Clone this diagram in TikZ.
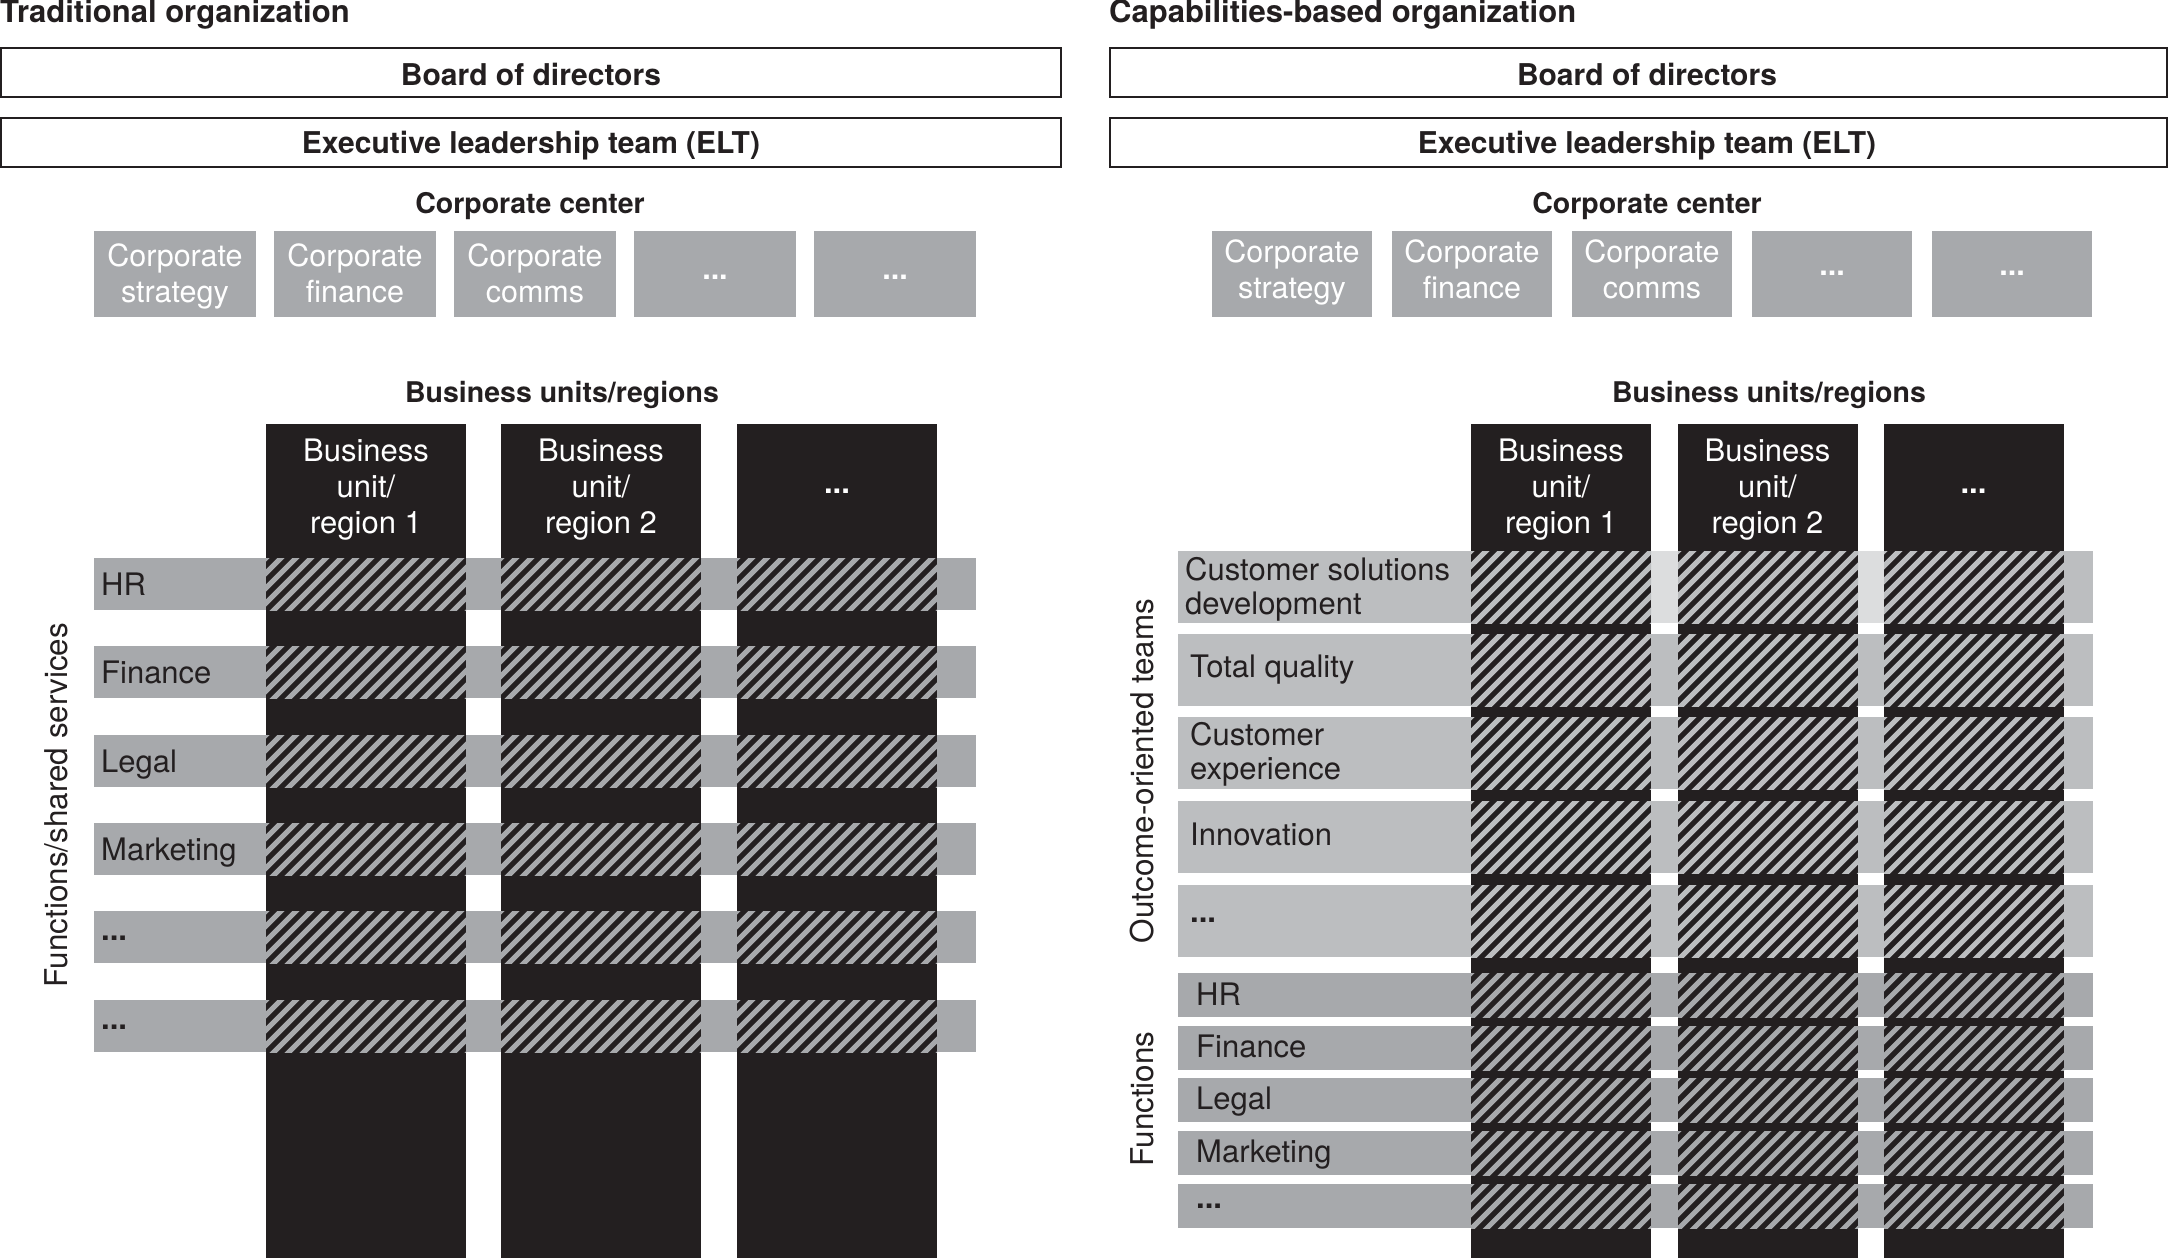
\documentclass[tikz,border=0pt]{standalone}
\usepackage{fontspec}
\setmainfont{TeX Gyre Heros}
\definecolor{ink}{HTML}{231F20}
\definecolor{midgray}{HTML}{A7A9AC}
\definecolor{ltgray}{HTML}{BCBEC0}
\definecolor{palegray}{HTML}{DCDDDE}
\newcommand\mystrut{\rule{0pt}{25pt}}
\newcommand\mydots{\textbf{...}}
% hatch cell: x1 y1 x2 y2 colour
\newcommand\hcell[5]{%
  \begin{scope}
    \clip (#1,#2) rectangle (#3,#4);
    \pgfmathsetmacro\hh{#4-#2}
    \foreach \k in {0,...,20} {%
      \draw[#5, line width=5pt] ({#1-\hh+\k*15-4},{#4+4}) -- ++({\hh+8},{-\hh-8});
    }
  \end{scope}}
\begin{document}
\begin{tikzpicture}[x=1pt,y=-1pt,
  title/.style={anchor=base west, inner sep=0pt, text=ink, font=\bfseries\fontsize{31}{36}\selectfont},
  board/.style={draw=ink, line width=2pt, minimum height=49pt, inner sep=0pt},
  boardtext/.style={anchor=base, inner sep=0pt, text=ink, font=\bfseries\fontsize{30}{34}\selectfont},
  sect/.style={anchor=base, inner sep=0pt, text=ink, font=\bfseries\fontsize{28.5}{34}\selectfont},
  ccbox/.style={fill=midgray, minimum height=86pt, inner sep=0pt},
  cctext/.style={anchor=north, inner sep=0pt, align=center, text=white, font=\fontsize{30.5}{36}\selectfont},
  ccdots/.style={anchor=base, inner sep=0pt, text=white, font=\fontsize{30.5}{36}\selectfont},
  colbar/.style={fill=ink, anchor=north west, inner sep=0pt, minimum height=834pt},
  coltext/.style={anchor=north, inner sep=0pt, align=center, text=white, font=\fontsize{31}{36}\selectfont},
  coldots/.style={anchor=base, inner sep=0pt, text=white, font=\fontsize{31}{36}\selectfont},
  rowband/.style={anchor=north west, inner sep=0pt},
  rowtext/.style={anchor=base west, inner sep=0pt, text=ink, font=\fontsize{31}{34}\selectfont},
  rowtextml/.style={anchor=north west, inner sep=0pt, align=left, text=ink, font=\fontsize{31}{34}\selectfont},
  sidelabel/.style={rotate=90, inner sep=0pt, text=ink, font=\fontsize{31.4}{36}\selectfont}
]
\useasboundingbox[fill=white] (0,0) rectangle (2170,1260);

% ================= LEFT: Traditional organization =================
\node[title] (ltitle) at (0,23) {Traditional organization};
\node[board, minimum width=1060pt] (lboard) at (531,72.5) {};
\node[boardtext] (lboardt) at (531,86) {Board of directors};
\node[board, minimum width=1060pt] (lelt) at (531,142.5) {};
\node[boardtext] (leltt) at (531,154) {Executive leadership team (ELT)};
\node[sect] (lcc) at (530,213.5) {Corporate center};

\node[ccbox, minimum width=162pt] (lc1) at (175,274) {};
\node[ccbox, minimum width=162pt] (lc2) at (355,274) {};
\node[ccbox, minimum width=162pt] (lc3) at (535,274) {};
\node[ccbox, minimum width=162pt] (lc4) at (715,274) {};
\node[ccbox, minimum width=162pt] (lc5) at (895,274) {};
\node[cctext] (lc1t) at (175,241) {\mystrut Corporate\\strategy};
\node[cctext] (lc2t) at (355,241) {\mystrut Corporate\\finance};
\node[cctext] (lc3t) at (535,241) {\mystrut Corporate\\comms};
\node[ccdots] (lc4t) at (715,279) {\mydots};
\node[ccdots] (lc5t) at (895,279) {\mydots};

\node[sect] (lbu) at (562,402.5) {Business units/regions};

% row bands
\foreach \ry/\nm in {558/1,646/2,735/3,823/4,911/5,1000/6}
  \node[rowband, fill=midgray, minimum width=882pt, minimum height=52pt] (lrow\nm) at (94,\ry) {};
% columns
\node[colbar, minimum width=200pt] (lcol1) at (266,424) {};
\node[colbar, minimum width=200pt] (lcol2) at (501,424) {};
\node[colbar, minimum width=200pt] (lcol3) at (737,424) {};
% hatching
\foreach \cx in {266,501,737}
  \foreach \ry in {558,646,735,823,911,1000}
    {\hcell{\cx}{\ry}{\cx+200}{\ry+52}{midgray}}
% column headers
\node[coltext] (lcol1t) at (366,436) {\mystrut Business\\unit/\\region 1};
\node[coltext] (lcol2t) at (601,436) {\mystrut Business\\unit/\\region 2};
\node[coldots] (lcol3t) at (837,493) {\mydots};
% row labels
\node[rowtext] (lrow1t) at (101,595) {HR};
\node[rowtext] (lrow2t) at (101,683) {Finance};
\node[rowtext] (lrow3t) at (101,772) {Legal};
\node[rowtext] (lrow4t) at (101,860) {Marketing};
\node[rowtext] (lrow5t) at (101,940) {\mydots};
\node[rowtext] (lrow6t) at (101,1029) {\mydots};
\node[sidelabel] (lside) at (56,805) {Functions/shared services};

% ================= RIGHT: Capabilities-based organization =================
\node[title] (rtitle) at (1109,23) {Capabilities-based organization};
\node[board, minimum width=1057pt] (rboard) at (1638.5,72.5) {};
\node[boardtext] (rboardt) at (1647,86) {Board of directors};
\node[board, minimum width=1057pt] (relt) at (1638.5,142.5) {};
\node[boardtext] (reltt) at (1647,154) {Executive leadership team (ELT)};
\node[sect] (rcc) at (1647,213.5) {Corporate center};

\node[ccbox, minimum width=160pt] (rc1) at (1292,274) {};
\node[ccbox, minimum width=160pt] (rc2) at (1472,274) {};
\node[ccbox, minimum width=160pt] (rc3) at (1652,274) {};
\node[ccbox, minimum width=160pt] (rc4) at (1832,274) {};
\node[ccbox, minimum width=160pt] (rc5) at (2012,274) {};
\node[cctext] (rc1t) at (1292,237) {\mystrut Corporate\\strategy};
\node[cctext] (rc2t) at (1472,237) {\mystrut Corporate\\finance};
\node[cctext] (rc3t) at (1652,237) {\mystrut Corporate\\comms};
\node[ccdots] (rc4t) at (1832,275) {\mydots};
\node[ccdots] (rc5t) at (2012,275) {\mydots};

\node[sect] (rbu) at (1769,402.5) {Business units/regions};

% outcome rows
\foreach \ry/\nm in {551/1,634/2,717/3,801/4,885/5}
  \node[rowband, fill=ltgray, minimum width=915pt, minimum height=72pt] (rorow\nm) at (1178,\ry) {};
% pale gaps in first row
\node[rowband, fill=palegray, minimum width=27pt, minimum height=72pt] (rgap1) at (1651,551) {};
\node[rowband, fill=palegray, minimum width=27pt, minimum height=72pt] (rgap2) at (1857,551) {};
% function rows
\foreach \ry/\nm in {973/1,1026/2,1078/3,1131/4,1184/5}
  \node[rowband, fill=midgray, minimum width=915pt, minimum height=44pt] (rfrow\nm) at (1178,\ry) {};
% columns
\node[colbar, minimum width=180pt] (rcol1) at (1471,424) {};
\node[colbar, minimum width=180pt] (rcol2) at (1678,424) {};
\node[colbar, minimum width=180pt] (rcol3) at (1884,424) {};
% hatching
\foreach \cx in {1471,1678,1884}{
  \foreach \ry in {551,634,717,801,885}
    {\hcell{\cx}{\ry}{\cx+180}{\ry+72}{ltgray}}
  \foreach \ry in {973,1026,1078,1131,1184}
    {\hcell{\cx}{\ry}{\cx+180}{\ry+44}{midgray}}
}
% column headers
\node[coltext] (rcol1t) at (1561,436) {\mystrut Business\\unit/\\region 1};
\node[coltext] (rcol2t) at (1767.5,436) {\mystrut Business\\unit/\\region 2};
\node[coldots] (rcol3t) at (1973.5,493) {\mydots};
% row labels
\node[rowtextml] (rorow1t) at (1185,555) {\mystrut Customer solutions\\development};
\node[rowtext] (rorow2t) at (1190,677) {Total quality};
\node[rowtextml] (rorow3t) at (1190,720) {\mystrut Customer\\experience};
\node[rowtext] (rorow4t) at (1190,845) {Innovation};
\node[rowtext] (rorow5t) at (1190,922) {\mydots};
\node[rowtext] (rfrow1t) at (1196,1005) {HR};
\node[rowtext] (rfrow2t) at (1196,1057) {Finance};
\node[rowtext] (rfrow3t) at (1196,1109) {Legal};
\node[rowtext] (rfrow4t) at (1196,1162) {Marketing};
\node[rowtext] (rfrow5t) at (1196,1208) {\mydots};
\node[sidelabel] (rside1) at (1142,771) {Outcome-oriented teams};
\node[sidelabel] (rside2) at (1142,1099) {Functions};
\end{tikzpicture}
\end{document}
